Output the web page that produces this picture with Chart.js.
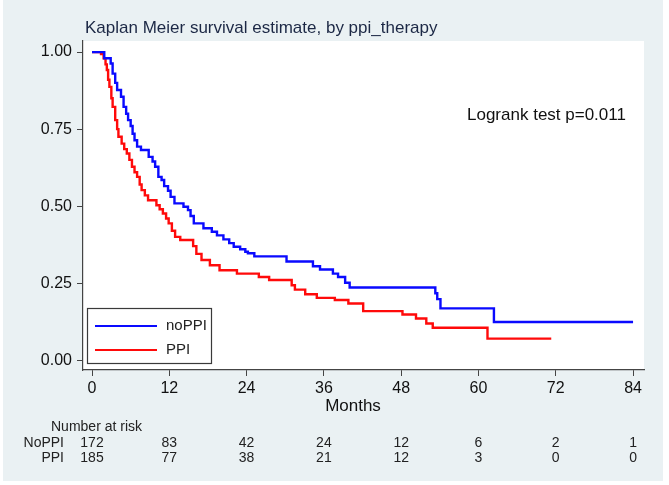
<!DOCTYPE html>
<html>
<head>
<meta charset="utf-8">
<script src="https://cdn.jsdelivr.net/npm/chart.js@4.4.1/dist/chart.umd.min.js"></script>
<style>
  html, body { margin: 0; padding: 0; background: #ffffff; }
  #wrap { width: 669px; height: 485px; }
</style>
</head>
<body>
<div id="wrap"><canvas id="kmChart" width="669" height="485"></canvas></div>
<script>
// Kaplan-Meier step points: month at which survival drops, and value after the drop
const noPpiMonths = [0, 1.9, 2.9, 3.2, 3.6, 3.9, 4.5, 4.9, 5.3, 5.6, 6.0, 6.3, 6.6, 7.0, 7.6, 8.8, 9.4, 9.8, 10.3, 10.8, 11.2, 11.8, 12.2, 12.8, 14.2, 14.9, 15.3, 15.8, 17.3, 18.6, 19.4, 20.4, 21.3, 22.0, 23.0, 23.8, 24.2, 25.2, 30.2, 34.3, 35.4, 37.4, 38.2, 39.3, 40.0, 53.3, 53.6, 54.1, 62.4, 84];
const noPpiSurv = [1, 0.98, 0.963, 0.93, 0.9, 0.877, 0.855, 0.822, 0.8, 0.779, 0.76, 0.735, 0.714, 0.693, 0.682, 0.66, 0.645, 0.628, 0.595, 0.585, 0.565, 0.55, 0.53, 0.509, 0.498, 0.487, 0.468, 0.444, 0.428, 0.417, 0.405, 0.392, 0.38, 0.368, 0.36, 0.352, 0.347, 0.337, 0.32, 0.305, 0.294, 0.281, 0.27, 0.251, 0.236, 0.217, 0.198, 0.168, 0.124, 0.124];

const ppiMonths = [0, 1.4, 1.8, 2.1, 2.3, 2.5, 2.7, 3.0, 3.2, 3.6, 3.9, 4.1, 4.6, 5.0, 5.4, 5.8, 6.2, 6.6, 7.0, 7.4, 7.7, 8.2, 8.7, 10.0, 10.5, 11.0, 11.5, 11.9, 12.4, 12.9, 13.7, 15.7, 16.2, 17.0, 18.3, 19.8, 22.5, 25.9, 27.5, 31.0, 31.5, 33.1, 34.9, 37.7, 39.8, 42.1, 48.2, 50.3, 51.9, 52.9, 61.4, 71.3];
const ppiSurv = [1, 0.994, 0.98, 0.96, 0.942, 0.91, 0.887, 0.85, 0.822, 0.779, 0.75, 0.725, 0.703, 0.685, 0.671, 0.65, 0.628, 0.61, 0.595, 0.57, 0.552, 0.535, 0.519, 0.503, 0.49, 0.476, 0.46, 0.444, 0.42, 0.4, 0.39, 0.37, 0.345, 0.325, 0.308, 0.292, 0.281, 0.27, 0.26, 0.243, 0.229, 0.214, 0.202, 0.195, 0.184, 0.159, 0.148, 0.135, 0.119, 0.105, 0.07, 0.07];

const monthTicks = [0, 12, 24, 36, 48, 60, 72, 84];
const survTicks = [0, 0.25, 0.5, 0.75, 1];

const riskGroups = ['NoPPI', 'PPI'];
const noPpiAtRisk = [172, 83, 42, 24, 12, 6, 2, 1];
const ppiAtRisk = [185, 77, 38, 21, 12, 3, 0, 0];

const FONT = '"Liberation Sans", Arial, sans-serif';

function toPoints(xs, ys) {
    return xs.map((x, i) => ({ x: x, y: ys[i] }));
}

// background, white plot area, title, annotation, legend and risk table
const decorPlugin = {
    id: 'decor',
    beforeDraw(chart) {
        const c = chart.ctx;
        const a = chart.chartArea;
        c.save();
        c.fillStyle = '#ffffff';
        c.fillRect(0, 0, chart.width, chart.height);
        c.fillStyle = '#eaf1f3';
        c.fillRect(3, 0, 660, 481);
        c.fillStyle = '#ffffff';
        c.fillRect(a.left, a.top, a.right - a.left, a.bottom - a.top);
        c.restore();
    },
    afterDraw(chart) {
        const c = chart.ctx;
        const xs = chart.scales.x;
        c.save();

        c.fillStyle = '#1c2845';
        c.font = '17px ' + FONT;
        c.textBaseline = 'middle';
        c.textAlign = 'left';
        c.fillText('Kaplan Meier survival estimate, by ppi_therapy', 85, 28);

        c.fillStyle = '#111111';
        c.font = '17px ' + FONT;
        c.fillText('Logrank test p=0.011', 467, 115);

        c.font = '17px ' + FONT;
        c.textAlign = 'center';
        c.fillText('Months', 353, 406);

        // legend box
        c.fillStyle = '#ffffff';
        c.fillRect(87, 308, 124, 55);
        c.strokeStyle = '#3a3a3a';
        c.lineWidth = 1.2;
        c.strokeRect(87.5, 308.5, 124, 55);
        chart.data.datasets.forEach((ds, i) => {
            const y = 326 + i * 24;
            c.strokeStyle = ds.borderColor;
            c.lineWidth = 2;
            c.beginPath();
            c.moveTo(95, y);
            c.lineTo(157, y);
            c.stroke();
            c.fillStyle = '#222222';
            c.font = '15px ' + FONT;
            c.textAlign = 'left';
            c.fillText(ds.label, 166, y);
        });

        // number at risk table
        c.fillStyle = '#222222';
        c.font = '14px "Liberation Sans Narrow", ' + FONT;
        c.textAlign = 'left';
        c.fillText('Number at risk', 51, 427);
        const rows = [noPpiAtRisk, ppiAtRisk];
        rows.forEach((row, r) => {
            const y = 443 + r * 15;
            c.textAlign = 'right';
            c.fillText(riskGroups[r], 64, y);
            c.textAlign = 'center';
            row.forEach((n, i) => {
                c.fillText(String(n), xs.getPixelForValue(monthTicks[i]), y);
            });
        });
        c.restore();
    }
};

function initKmChart() {
    const ctx = document.getElementById('kmChart');
    if (!ctx) return;

    const chartData = {
        datasets: [{
            label: 'noPPI',
            data: toPoints(noPpiMonths, noPpiSurv),
            borderColor: '#0a0aff',
            borderWidth: 2.4,
            stepped: 'before',
            pointRadius: 0,
            fill: false
        }, {
            label: 'PPI',
            data: toPoints(ppiMonths, ppiSurv),
            borderColor: '#ff0a0a',
            borderWidth: 2.4,
            stepped: 'before',
            pointRadius: 0,
            fill: false
        }]
    };

    const options = {
        responsive: false,
        animation: false,
        layout: {
            padding: { left: 0, right: 25, top: 41, bottom: 0 }
        },
        plugins: {
            legend: { display: false },
            tooltip: { enabled: false }
        },
        scales: {
            x: {
                type: 'linear',
                min: -1.4,
                max: 85.7,
                afterBuildTicks: (scale) => {
                    scale.ticks = monthTicks.map(v => ({ value: v }));
                },
                afterFit: (scale) => { scale.height = 115; },
                grid: {
                    drawOnChartArea: false,
                    drawTicks: true,
                    tickLength: 6,
                    color: '#444444'
                },
                border: { color: '#444444', width: 1.2 },
                ticks: {
                    color: '#111111',
                    padding: 3,
                    maxRotation: 0,
                    autoSkip: false,
                    font: { family: FONT, size: 16 }
                }
            },
            y: {
                min: -0.032,
                max: 1.036,
                afterBuildTicks: (scale) => {
                    scale.ticks = survTicks.map(v => ({ value: v }));
                },
                afterFit: (scale) => { scale.width = 83; },
                grid: {
                    drawOnChartArea: false,
                    drawTicks: true,
                    tickLength: 6,
                    color: '#444444'
                },
                border: { color: '#444444', width: 1.2 },
                ticks: {
                    color: '#111111',
                    padding: 5,
                    autoSkip: false,
                    font: { family: FONT, size: 16 },
                    callback: (v) => Number(v).toFixed(2)
                }
            }
        }
    };

    new Chart(ctx, {
        type: 'line',
        data: chartData,
        options: options,
        plugins: [decorPlugin]
    });
}

document.addEventListener('DOMContentLoaded', initKmChart);
</script>
</body>
</html>
